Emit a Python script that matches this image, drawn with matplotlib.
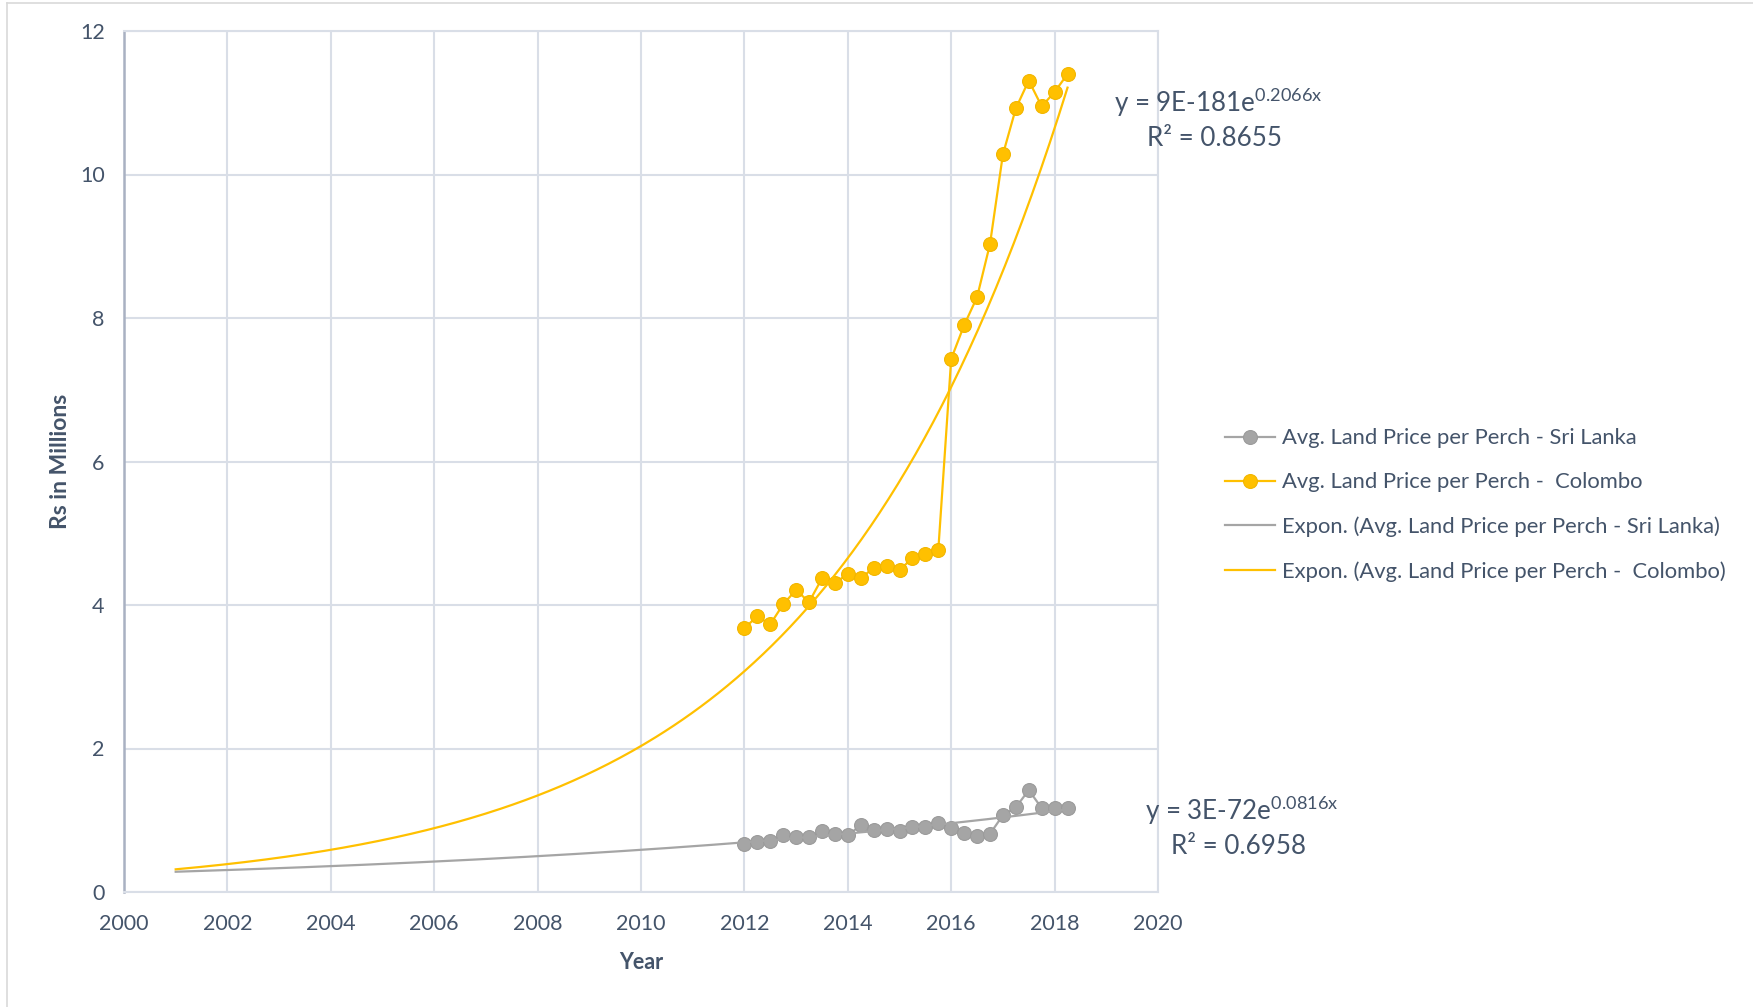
import numpy as np
import matplotlib
matplotlib.use("Agg")
import matplotlib.pyplot as plt
from matplotlib.lines import Line2D

# ---------------- data ----------------
quarters = [2012.0, 2012.25, 2012.5, 2012.75, 2013.0, 2013.25, 2013.5, 2013.75,
            2014.0, 2014.25, 2014.5, 2014.75, 2015.0, 2015.25, 2015.5, 2015.75,
            2016.0, 2016.25, 2016.5, 2016.75, 2017.0, 2017.25, 2017.5, 2017.75,
            2018.0, 2018.25]
sri_lanka = [0.67, 0.70, 0.71, 0.79, 0.76, 0.76, 0.85, 0.81,
             0.79, 0.93, 0.87, 0.88, 0.85, 0.91, 0.90, 0.96,
             0.89, 0.82, 0.78, 0.81, 1.07, 1.18, 1.42, 1.17,
             1.17, 1.17]
colombo = [3.68, 3.84, 3.73, 4.01, 4.21, 4.04, 4.37, 4.31,
           4.43, 4.37, 4.52, 4.55, 4.49, 4.65, 4.71, 4.76,
           7.43, 7.90, 8.29, 9.03, 10.28, 10.92, 11.31, 10.95,
           11.15, 11.40]
trend_start = 2001.0

label_sl = "Avg. Land Price per Perch - Sri Lanka"
label_col = "Avg. Land Price per Perch -  Colombo"
label_tsl = "Expon. (Avg. Land Price per Perch - Sri Lanka)"
label_tcol = "Expon. (Avg. Land Price per Perch -  Colombo)"
eq_col = ("y = 9E-181e", "0.2066x", "R\u00b2 = 0.8655")
eq_sl = ("y = 3E-72e", "0.0816x", "R\u00b2 = 0.6958")

x_ticks = [2000, 2002, 2004, 2006, 2008, 2010, 2012, 2014, 2016, 2018, 2020]
y_ticks = [0, 2, 4, 6, 8, 10, 12]

# ---------------- style ----------------
FONT = "Lato"
TXT = "#44546A"
GRID = "#D9DEE7"
GRAY = "#A5A5A5"
GOLD = "#FFC000"

plt.rcParams["font.family"] = [FONT, "DejaVu Sans"]
plt.rcParams["mathtext.fontset"] = "custom"
plt.rcParams["mathtext.rm"] = FONT

W, H = 1753, 1007
fig = plt.figure(figsize=(W / 100, H / 100), dpi=100)
fig.patch.set_facecolor("white")

# chart-area border (top and left visible)
fig.add_artist(Line2D([7 / W, 7 / W], [0, 1 - 3 / H], transform=fig.transFigure,
                      color="#D9D9D9", lw=1.2))
fig.add_artist(Line2D([7 / W, 1], [1 - 3 / H, 1 - 3 / H], transform=fig.transFigure,
                      color="#D9D9D9", lw=1.2))

ax = fig.add_axes([124 / W, 1 - 892 / H, (1158 - 124) / W, (892 - 31) / H])
ax.set_xlim(2000, 2020)
ax.set_ylim(0, 12)
ax.set_xticks(x_ticks)
ax.set_yticks(y_ticks)
ax.grid(True, color=GRID, lw=1.5, zorder=0)
ax.set_axisbelow(True)
for s in ["top", "right", "bottom"]:
    ax.spines[s].set_color(GRID)
    ax.spines[s].set_linewidth(1.5)
ax.spines["left"].set_color("#A9B1C2")
ax.spines["left"].set_linewidth(1.8)
ax.tick_params(length=0, labelsize=15.5, labelcolor=TXT)
ax.tick_params(axis="y", pad=14)
ax.tick_params(axis="x", pad=16)

x = np.array(quarters)
ysl = np.array(sri_lanka)
ycol = np.array(colombo)

ax.plot(x, ysl, color=GRAY, lw=1.6, marker="o", ms=10, mfc=GRAY, mec="#9B9B9B",
        mew=0.8, zorder=3, label=label_sl)
ax.plot(x, ycol, color=GOLD, lw=1.6, marker="o", ms=10, mfc=GOLD, mec="#F2B600",
        mew=0.8, zorder=3, label=label_col)

# exponential trend lines (least squares on log values, forecast backwards)
xt = np.linspace(trend_start, x[-1], 300)
b_sl, a_sl = np.polyfit(x, np.log(ysl), 1)
b_col, a_col = np.polyfit(x, np.log(ycol), 1)
ax.plot(xt, np.exp(a_sl + b_sl * xt), color=GRAY, lw=1.6, zorder=4, label=label_tsl)
ax.plot(xt, np.exp(a_col + b_col * xt), color=GOLD, lw=1.6, zorder=4, label=label_tcol)

ax.set_xlabel("Year", fontsize=15.5, fontweight="bold", color=TXT, labelpad=13)
ax.set_ylabel("Rs in Millions", fontsize=16.5, fontweight="bold", color=TXT, labelpad=6)

# equations
def equation(xpx, ypx, xr, yr, parts):
    main, sup, r2 = parts
    fig.text(xpx / W, 1 - ypx / H, main + "$^{\\mathrm{" + sup + "}}$", fontsize=18.7,
             color=TXT, va="center", ha="left")
    fig.text(xr / W, 1 - yr / H, r2, fontsize=18.7, color=TXT, va="center", ha="left")

equation(1114, 102, 1147, 138, eq_col)
equation(1145, 810, 1171, 846, eq_sl)

handles, labels = ax.get_legend_handles_labels()
leg = fig.legend(handles, labels, loc="center left", bbox_to_anchor=(1214 / W, 1 - 505 / H),
                 frameon=False, fontsize=15.8, handlelength=2.3, handletextpad=0.3,
                 labelspacing=1.1, borderpad=0)
for t in leg.get_texts():
    t.set_color(TXT)

fig.savefig("out.png", dpi=100, facecolor="white")
